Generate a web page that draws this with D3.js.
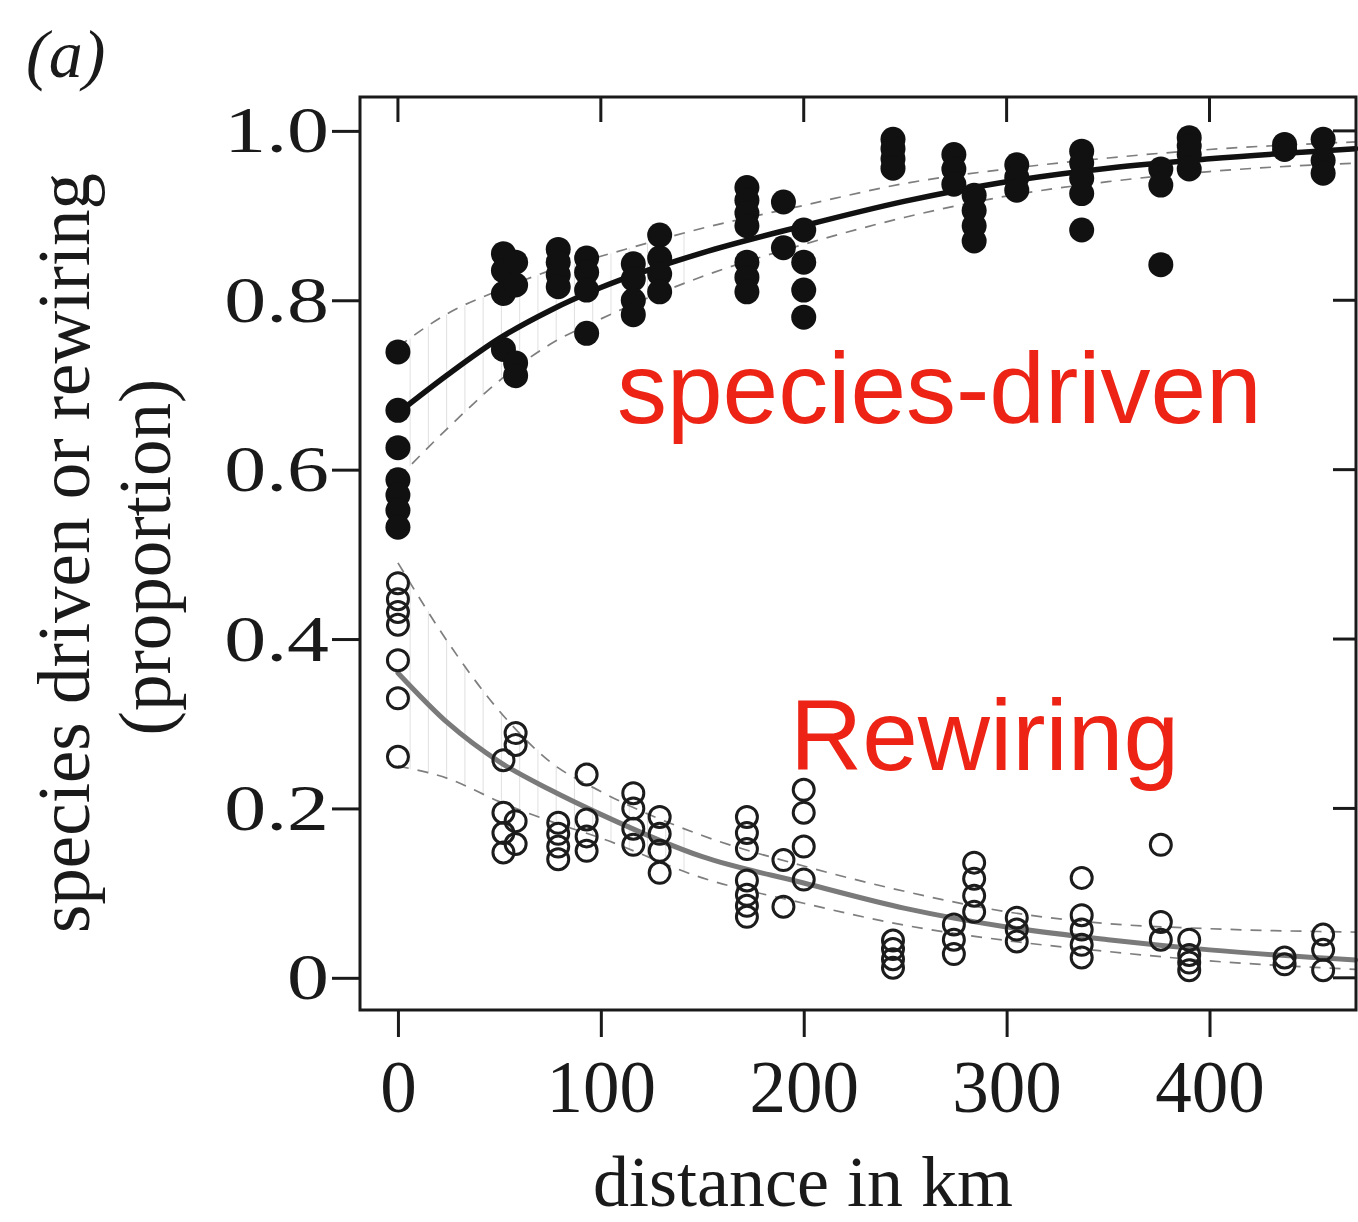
<!DOCTYPE html>
<html>
<head>
<meta charset="utf-8">
<script src="https://cdn.jsdelivr.net/npm/d3@7"></script>
<style>
  html, body { margin: 0; padding: 0; background: #fff; }
  svg { display: block; }
</style>
</head>
<body>
<svg id="chart" width="1358" height="1222"></svg>
<script>
// Site-pair observations: distance between sites and the share of
// beta-diversity of interactions that is species-driven vs. rewiring.
const distanceKm = [
  0, 0, 0, 0, 0, 0, 0,
  52, 52, 52, 58, 58, 52, 58, 58,
  79, 79, 79, 79,
  93, 93, 93, 93,
  116, 116, 116, 116,
  129, 129, 129, 129,
  172, 172, 172, 172, 172, 172, 172,
  190, 190,
  200, 200, 200, 200,
  244, 244, 244, 244,
  274, 274, 274,
  284, 284, 284, 284,
  305, 305, 305,
  337, 337, 337, 337, 337,
  376, 376, 376,
  390, 390, 390, 390,
  437, 437,
  456, 456, 456
];
const speciesDriven = [
  0.739, 0.670, 0.626, 0.588, 0.570, 0.552, 0.532,
  0.855, 0.835, 0.808, 0.845, 0.818, 0.742, 0.726, 0.711,
  0.860, 0.845, 0.830, 0.816,
  0.850, 0.833, 0.812, 0.761,
  0.843, 0.825, 0.800, 0.783,
  0.877, 0.850, 0.831, 0.810,
  0.933, 0.918, 0.903, 0.888, 0.845, 0.827, 0.810,
  0.916, 0.862,
  0.883, 0.845, 0.812, 0.780,
  0.990, 0.979, 0.967, 0.956,
  0.972, 0.955, 0.937,
  0.924, 0.906, 0.888, 0.870,
  0.960, 0.945, 0.930,
  0.976, 0.962, 0.944, 0.926, 0.883,
  0.955, 0.936, 0.842,
  0.992, 0.982, 0.972, 0.955,
  0.978, 0.984,
  0.990, 0.965, 0.950
];
const rewiring = [
  0.261, 0.330, 0.375, 0.417, 0.432, 0.447, 0.466,
  0.148, 0.171, 0.195, 0.158, 0.185, 0.257, 0.275, 0.289,
  0.140, 0.155, 0.170, 0.183,
  0.150, 0.167, 0.187, 0.240,
  0.157, 0.176, 0.200, 0.218,
  0.124, 0.150, 0.170, 0.190,
  0.072, 0.085, 0.098, 0.115, 0.152, 0.171, 0.190,
  0.084, 0.139,
  0.116, 0.155, 0.195, 0.222,
  0.012, 0.022, 0.034, 0.044,
  0.028, 0.045, 0.063,
  0.078, 0.097, 0.117, 0.136,
  0.043, 0.057, 0.071,
  0.024, 0.039, 0.057, 0.074, 0.118,
  0.045, 0.066, 0.157,
  0.009, 0.018, 0.027, 0.045,
  0.024, 0.016,
  0.009, 0.033, 0.051
];

// Fitted trends with their confidence limits, on a common distance grid.
const fitKm         = [0, 25, 50, 75, 100, 150, 200, 250, 300, 350, 400, 472];
const speciesFit    = [0.667, 0.713, 0.755, 0.788, 0.815, 0.856, 0.888, 0.917, 0.940, 0.956, 0.967, 0.979];
const speciesUpper  = [0.745, 0.785, 0.812, 0.835, 0.852, 0.885, 0.912, 0.938, 0.955, 0.968, 0.978, 0.987];
const speciesLower  = [0.590, 0.650, 0.705, 0.748, 0.778, 0.828, 0.866, 0.898, 0.923, 0.940, 0.952, 0.962];
const rewiringFit   = [0.360, 0.300, 0.255, 0.222, 0.193, 0.143, 0.112, 0.082, 0.060, 0.045, 0.033, 0.021];
const rewiringUpper = [0.490, 0.395, 0.315, 0.255, 0.220, 0.168, 0.132, 0.102, 0.078, 0.064, 0.058, 0.054];
const rewiringLower = [0.250, 0.235, 0.208, 0.185, 0.165, 0.118, 0.088, 0.062, 0.044, 0.031, 0.020, 0.010];

// Axis ticks
const xTicks = [0, 100, 200, 300, 400];
const yTicks = [0, 0.2, 0.4, 0.6, 0.8, 1.0];
const yTickLabels = ["0", "0.2", "0.4", "0.6", "0.8", "1.0"];

const svg = d3.select("#chart");
const serif = "'Liberation Serif', 'Times New Roman', serif";
const sans = "'Liberation Sans', Arial, Helvetica, sans-serif";

const x = d3.scaleLinear().domain([-18.7, 472.2]).range([360, 1356]);
const y = d3.scaleLinear().domain([-0.038, 1.04]).range([1010, 97]);

const [x0, x1] = x.range();
const [yb, yt] = y.range();

// Confidence-band hatching near the start of each trend
const hatch = svg.append("g").attr("stroke", "#c8c8c8").attr("stroke-width", 1).attr("opacity", 0.55);
const interp = (arr) => (k) => {
  const i = d3.bisectRight(fitKm, k) - 1;
  const j = Math.min(i + 1, fitKm.length - 1);
  const t = j === i ? 0 : (k - fitKm[i]) / (fitKm[j] - fitKm[i]);
  return arr[i] + t * (arr[j] - arr[i]);
};
const sU = interp(speciesUpper), sL = interp(speciesLower);
const rU = interp(rewiringUpper), rL = interp(rewiringLower);
d3.range(6, 150, 9).forEach(k => {
  hatch.append("line").attr("x1", x(k)).attr("x2", x(k)).attr("y1", y(sU(k))).attr("y2", y(sL(k)));
  hatch.append("line").attr("x1", x(k)).attr("x2", x(k)).attr("y1", y(rU(k))).attr("y2", y(rL(k)));
});

// Dashed confidence limits
const line = (vals) => d3.line()
  .x((d, i) => x(fitKm[i]))
  .y(d => y(d))
  .curve(d3.curveMonotoneX)(vals);

[speciesUpper, speciesLower, rewiringUpper, rewiringLower].forEach(vals => {
  svg.append("path")
    .attr("d", line(vals))
    .attr("fill", "none")
    .attr("stroke", "#7e7e7e")
    .attr("stroke-width", 1.7)
    .attr("stroke-dasharray", "11,9");
});

// Fitted trends
svg.append("path")
  .attr("d", line(rewiringFit))
  .attr("fill", "none")
  .attr("stroke", "#7a7a7a")
  .attr("stroke-width", 5)
  .attr("stroke-linecap", "round");
svg.append("path")
  .attr("d", line(speciesFit))
  .attr("fill", "none")
  .attr("stroke", "#111")
  .attr("stroke-width", 5.5)
  .attr("stroke-linecap", "round");

// Observations: rewiring (open) and species-driven (filled)
svg.append("g").selectAll("circle")
  .data(rewiring)
  .join("circle")
  .attr("cx", (d, i) => x(distanceKm[i]))
  .attr("cy", d => y(d))
  .attr("r", 10.5)
  .attr("fill", "none")
  .attr("stroke", "#1c1c1c")
  .attr("stroke-width", 3);

svg.append("g").selectAll("circle")
  .data(speciesDriven)
  .join("circle")
  .attr("cx", (d, i) => x(distanceKm[i]))
  .attr("cy", d => y(d))
  .attr("r", 12.5)
  .attr("fill", "#111");

// Frame
svg.append("rect")
  .attr("x", x0).attr("y", yt)
  .attr("width", x1 - x0).attr("height", yb - yt)
  .attr("fill", "none")
  .attr("stroke", "#1a1a1a")
  .attr("stroke-width", 3);

// Bottom axis
const gx = svg.append("g")
  .attr("transform", `translate(0,${yb})`)
  .call(d3.axisBottom(x).tickValues(xTicks).tickSize(27).tickPadding(23).tickSizeOuter(0).tickFormat(d3.format("d")));
gx.select(".domain").remove();
gx.selectAll(".tick line").attr("stroke", "#1a1a1a").attr("stroke-width", 3);
gx.selectAll(".tick text").attr("font-family", serif).attr("font-size", 73).attr("fill", "#1a1a1a");

// Left axis
const gy = svg.append("g")
  .attr("transform", `translate(${x0},0)`)
  .call(d3.axisLeft(y).tickValues(yTicks).tickSize(28).tickPadding(4).tickSizeOuter(0)
    .tickFormat((d, i) => yTickLabels[i]));
gy.select(".domain").remove();
gy.selectAll(".tick line").attr("stroke", "#1a1a1a").attr("stroke-width", 3);
gy.selectAll(".tick text")
  .attr("font-family", serif).attr("font-size", 66).attr("fill", "#1a1a1a")
  .attr("x", 0)
  .attr("transform", "translate(-31,0) scale(1.27,1)");

// Inward ticks on top and right sides
svg.append("g").selectAll("line").data(xTicks).join("line")
  .attr("x1", d => x(d)).attr("x2", d => x(d))
  .attr("y1", yt).attr("y2", yt + 25)
  .attr("stroke", "#1a1a1a").attr("stroke-width", 3);
svg.append("g").selectAll("line").data(yTicks).join("line")
  .attr("x1", x1 - 23).attr("x2", x1)
  .attr("y1", d => y(d)).attr("y2", d => y(d))
  .attr("stroke", "#1a1a1a").attr("stroke-width", 3);

// Axis titles
svg.append("text")
  .attr("x", 803).attr("y", 1206)
  .attr("text-anchor", "middle")
  .attr("font-family", serif).attr("font-size", 72).attr("fill", "#1a1a1a")
  .text("distance in km");

svg.append("text")
  .attr("transform", "translate(89,553) rotate(-90)")
  .attr("text-anchor", "middle")
  .attr("font-family", serif).attr("font-size", 73).attr("fill", "#1a1a1a")
  .text("species driven or rewiring");

svg.append("text")
  .attr("transform", "translate(170,557) rotate(-90)")
  .attr("text-anchor", "middle")
  .attr("font-family", serif).attr("font-size", 73).attr("fill", "#1a1a1a")
  .text("(proportion)");

// Panel tag
svg.append("text")
  .attr("x", 26).attr("y", 77)
  .attr("font-family", serif).attr("font-size", 68).attr("font-style", "italic").attr("fill", "#1a1a1a")
  .text("(a)");

// Series labels
svg.append("text")
  .attr("x", 617).attr("y", 423)
  .attr("font-family", sans).attr("font-size", 100).attr("fill", "#ec2315")
  .text("species-driven");
svg.append("text")
  .attr("x", 790).attr("y", 770)
  .attr("font-family", sans).attr("font-size", 100).attr("fill", "#ec2315")
  .text("Rewiring");
</script>
</body>
</html>
